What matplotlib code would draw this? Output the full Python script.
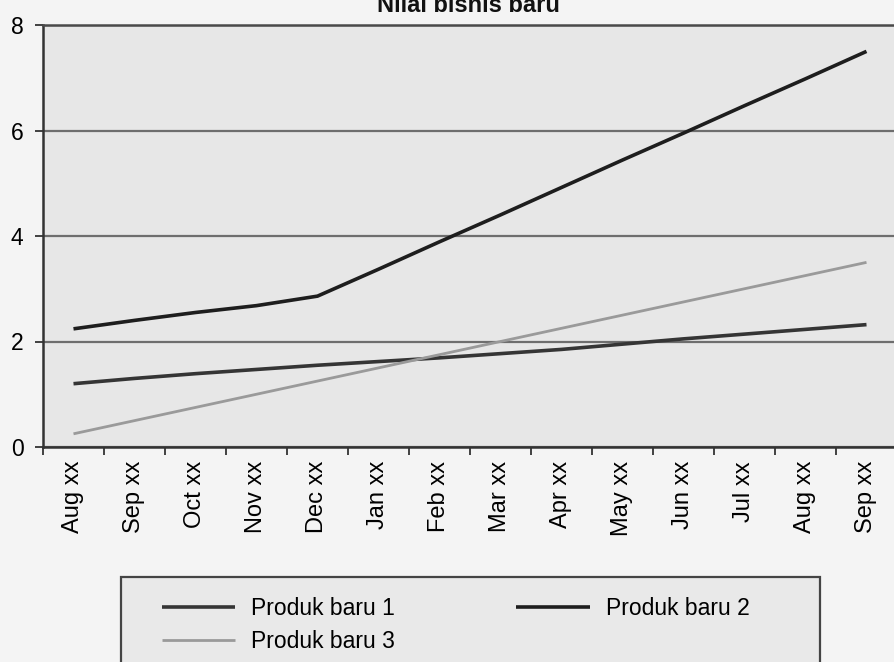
import numpy as np
import matplotlib
matplotlib.use("Agg")
import matplotlib.pyplot as plt
from matplotlib.patches import Rectangle

plt.rcParams['font.family'] = ['Liberation Sans', 'DejaVu Sans']

months = ['Aug xx', 'Sep xx', 'Oct xx', 'Nov xx', 'Dec xx', 'Jan xx', 'Feb xx',
          'Mar xx', 'Apr xx', 'May xx', 'Jun xx', 'Jul xx', 'Aug xx', 'Sep xx']
produk1 = [1.20, 1.30, 1.39, 1.47, 1.55, 1.62, 1.69, 1.77, 1.85, 1.95, 2.05, 2.14, 2.23, 2.32]
produk2 = [2.24, 2.40, 2.55, 2.68, 2.86, 3.37, 3.89, 4.40, 4.92, 5.44, 5.95, 6.47, 6.98, 7.50]
produk3 = [0.25, 0.50, 0.75, 1.00, 1.25, 1.50, 1.75, 2.00, 2.25, 2.50, 2.75, 3.00, 3.25, 3.50]
yticks = [0, 2, 4, 6, 8]

W, H = 895, 662
fig = plt.figure(figsize=(W/100, H/100), dpi=100, facecolor='#f4f4f4')
ax = fig.add_axes([43/W, 1-447/H, (897-43)/W, (447-25)/H])
ax.set_facecolor('#e7e7e7')

x = np.arange(len(months))
l1, = ax.plot(x, produk1, color='#353535', lw=2.6, solid_capstyle='butt')
l2, = ax.plot(x, produk2, color='#1e1e1e', lw=2.6, solid_capstyle='butt')
l3, = ax.plot(x, produk3, color='#9a9a9a', lw=2.0, solid_capstyle='butt')

ax.set_xlim(-0.5, len(months)-0.5)
ax.set_ylim(0, 8)
ax.set_yticks(yticks)
ax.set_yticklabels([str(v) for v in yticks], fontsize=16.5)
ax.yaxis.grid(True, color='#6e6e6e', lw=1.6)
ax.set_axisbelow(True)

ax.set_xticks(x)
ax.set_xticklabels(months, rotation=90, fontsize=17, va='top', ha='center')
ax.set_xticks(np.arange(len(months)+1)-0.5, minor=True)
ax.tick_params(axis='x', which='major', length=0, pad=10)
ax.tick_params(axis='x', which='minor', length=6, width=1.3, color='#333333', direction='out')
ax.tick_params(axis='y', length=6, width=1.3, color='#333333', pad=8)

for s in ['left', 'bottom']:
    ax.spines[s].set_color('#333333')
    ax.spines[s].set_linewidth(1.8)
ax.spines['top'].set_color('#4a4a4a')
ax.spines['top'].set_linewidth(1.8)
ax.spines['right'].set_visible(False)

fig.text(468/W, 1-12/H, 'Nilai bisnis baru', ha='center', va='baseline',
         fontsize=17, fontweight='bold', color='#111111')

fig.patches.append(Rectangle((121/W, -0.05), (820-121)/W, 0.05+(H-577)/H,
                             transform=fig.transFigure, facecolor='#e9e9e9',
                             edgecolor='#444444', lw=1.6, zorder=0))
# column-major fill: P1, P3 in first column, P2 in second
leg = fig.legend([l1, l3, l2], ['Produk baru 1', 'Produk baru 3', 'Produk baru 2'],
                 ncol=2, loc='upper left', bbox_to_anchor=(141/W, 1-576/H),
                 frameon=False, fontsize=16.5, handlelength=3.2, handletextpad=0.7,
                 columnspacing=5.3, labelspacing=0.45)

fig.savefig('out.png', dpi=100, facecolor=fig.get_facecolor())
